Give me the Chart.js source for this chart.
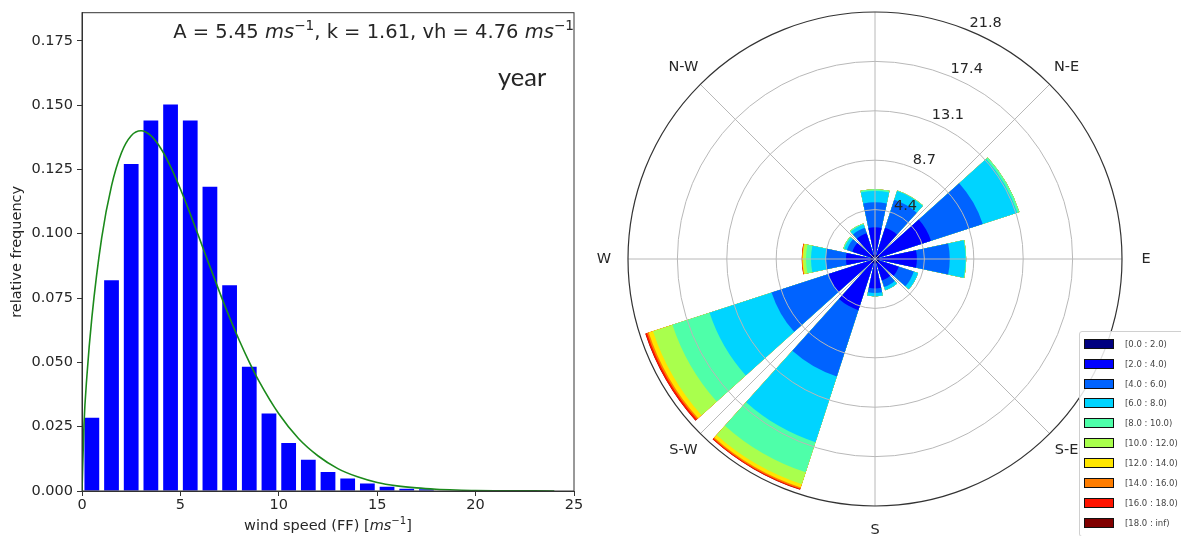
<!DOCTYPE html>
<html>
<head>
<meta charset="utf-8">
<script src="https://cdn.jsdelivr.net/npm/chart.js@4.4.1/dist/chart.umd.min.js"></script>
<style>
  body{margin:0;width:1181px;height:536px;overflow:hidden;background:#fff;position:relative;font-family:"DejaVu Sans",sans-serif;color:#262626}
  .box{position:absolute}
  sup{font-size:70%;vertical-align:0.6em;line-height:0}
  #ann{position:absolute;right:607px;top:21px;font-size:19.5px;line-height:22px;white-space:nowrap}
  #year{position:absolute;left:498px;top:61px;font-family:Lato,sans-serif;font-size:25.5px;line-height:30px}
  #xtitle{position:absolute;left:128px;width:400px;top:517px;text-align:center;font-size:14.5px;line-height:17px}
  #legend{position:absolute;left:1079px;top:331px;width:130px;height:204px;border:1px solid #d0d0d0;border-radius:3px;background:rgba(255,255,255,0.85)}
  #legend .row{position:absolute;left:4px;height:12px}
  #legend .sw{position:absolute;left:0;top:1px;width:30px;height:10px;box-sizing:border-box;border:1px solid #111}
  #legend .tx{position:absolute;left:41px;top:0;font-size:8.5px;line-height:12px;color:#444;white-space:nowrap}
</style>
</head>
<body>
<div class="box" style="left:0;top:0;width:600px;height:536px"><canvas id="hist"></canvas></div>
<div class="box" style="left:590px;top:0;width:591px;height:536px"><canvas id="rose"></canvas></div>
<div id="ann">A = 5.45 <i>ms</i><sup>−1</sup>, k = 1.61, vh = 4.76 <i>ms</i><sup>−1</sup></div>
<div id="year">year</div>
<div id="xtitle">wind speed (FF) [<i>ms</i><sup>−1</sup>]</div>
<div id="legend"></div>
<script>
// histogram (bin centres, relative frequency)
const binCenters = [0.5,1.5,2.5,3.5,4.5,5.5,6.5,7.5,8.5,9.5,10.5,11.5,12.5,13.5,14.5,15.5,16.5,17.5];
const relFreq = [0.0285,0.0819,0.1271,0.1440,0.1502,0.1440,0.1183,0.0800,0.0483,0.0301,0.0187,0.0121,0.0074,0.0049,0.0029,0.0017,0.0009,0.0007];
// fitted curve
const fitSpeed = [0,0.1,0.25,0.5,1,1.5,2,2.5,3,3.5,4,4.5,5,5.5,6,6.5,7,7.5,8,8.5,9,10,11,12,13,14,15,16,17,18,19,20,22,24];
const fitDensity = [0,0.0257,0.0448,0.0673,0.0984,0.1186,0.1314,0.1381,0.1400,0.1381,0.1332,0.1261,0.1174,0.1077,0.0975,0.0872,0.0771,0.0674,0.0584,0.0501,0.0426,0.0300,0.0204,0.0136,0.0087,0.0055,0.0033,0.0020,0.0012,0.0007,0.0004,0.0002,0.0001,0.0000];

// wind rose: 12 sectors of 30 deg, frequency (%) per speed class
const sectors = ['N','NNE','ENE','E','ESE','SSE','S','SSW','WSW','W','WNW','NNW'];
const speedBins = ['[0.0 : 2.0)','[2.0 : 4.0)','[4.0 : 6.0)','[6.0 : 8.0)','[8.0 : 10.0)','[10.0 : 12.0)','[12.0 : 14.0)','[14.0 : 16.0)','[16.0 : 18.0)','[18.0 : inf)'];
const binColors = ['#000080','#0000ff','#0063ff','#00d4ff','#4effa9','#a9ff4d','#ffe600','#ff7d00','#ff1400','#800000'];
const f0_2   = [0.4,0.4,0.4,0.4,0.4,0.4,0.4,0.4,0.4,0.4,0.4,0.4];
const f2_4   = [2.4,2.5,4.8,3.3,1.8,1.6,2.2,4.35,3.9,2.16,1.7,2.0];
const f4_6   = [2.2,2.6,4.8,2.9,1.4,0.6,0.4,6.15,5.3,1.77,0.5,0.5];
const f6_8   = [1.0,0.8,3.2,1.4,0.4,0.3,0.3,6.1,5.75,1.32,0.25,0.3];
const f8_10  = [0.15,0.05,0.2,0.05,0,0,0,2.8,3.45,0.44,0.1,0.1];
const f10_12 = [0,0,0,0,0,0,0,1.1,1.8,0.24,0,0];
const f12_14 = [0,0,0,0,0,0,0,0.3,0.4,0.07,0,0];
const f14_16 = [0,0,0,0,0,0,0,0.12,0.15,0.04,0,0];
const f16_18 = [0,0,0,0,0,0,0,0.08,0.15,0.02,0,0];
const f18_inf= [0,0,0,0,0,0,0,0.02,0.02,0.01,0,0];
const compassLabels = ['N','N-E','E','S-E','S','S-W','W','N-W'];
const rTicks = [4.36,8.72,13.08,17.44,21.8];

Chart.defaults.font.family = 'DejaVu Sans';
Chart.defaults.font.size = 14.5;
Chart.defaults.color = '#262626';

const frame = {
  id:'frame',
  afterDraw(chart){
    const a = chart.chartArea, ctx = chart.ctx;
    ctx.save(); ctx.strokeStyle = '#333'; ctx.lineWidth = 1;
    ctx.strokeRect(a.left, a.top, a.right - a.left, a.bottom - a.top);
    ctx.restore();
  }
};

new Chart(document.getElementById('hist'), {
  type:'bar',
  data:{ datasets:[
    { type:'line', data: fitSpeed.map((x,i)=>({x:x, y:fitDensity[i]})), borderColor:'#1b8a1b', borderWidth:1.6,
      pointRadius:0, cubicInterpolationMode:'monotone', fill:false },
    { type:'bar', data: binCenters.map((x,i)=>({x:x, y:relFreq[i]})), backgroundColor:'#0000ff',
      barPercentage:0.75, categoryPercentage:1 }
  ]},
  options:{
    responsive:true, maintainAspectRatio:false, animation:false,
    layout:{padding:{left:0,top:12,right:26,bottom:0}},
    plugins:{legend:{display:false}, tooltip:{enabled:false}},
    scales:{
      x:{ type:'linear', min:0, max:25, offset:false,
          ticks:{stepSize:5, padding:1, maxRotation:0, callback:v=>v},
          grid:{drawOnChartArea:false, offset:false, tickLength:5, color:'#333'},
          border:{color:'#333'},
          afterFit:s=>{ s.height = 45; } },
      y:{ min:0, max:0.1859,
          ticks:{stepSize:0.025, includeBounds:false, padding:4, callback:v=>v.toFixed(3)},
          grid:{drawOnChartArea:false, tickLength:5, color:'#333'},
          border:{color:'#333'},
          title:{display:true, text:'relative frequency', padding:{top:9,bottom:0}, font:{size:14.5}},
          afterFit:s=>{ s.width = 82; } }
    }
  },
  plugins:[frame]
});

// stacked rose: cumulative radius per speed class
const bins = [f0_2,f2_4,f4_6,f6_8,f8_10,f10_12,f12_14,f14_16,f16_18,f18_inf];
let run = sectors.map(()=>0);
const roseSets = bins.map((b,k)=>{
  run = run.map((v,i)=>v + b[i]);
  return {
    label: speedBins[k],
    data: run.flatMap(v=>[v,0]),
    backgroundColor: binColors[k],
    borderWidth:0,
    angle: c => (c.dataIndex % 2 ? 6 : 24)
  };
});

const roseOverlay = {
  id:'roseOverlay',
  afterDatasetsDraw(chart){
    const s = chart.scales.r, ctx = chart.ctx;
    const cx = s.xCenter, cy = s.yCenter;
    const R = s.getDistanceFromCenterForValue(s.max);
    ctx.save();
    ctx.strokeStyle = '#b8b8b8'; ctx.lineWidth = 1;
    rTicks.slice(0,-1).forEach(v=>{
      ctx.beginPath(); ctx.arc(cx, cy, s.getDistanceFromCenterForValue(v), 0, 2*Math.PI); ctx.stroke();
    });
    compassLabels.forEach((t,i)=>{
      const a = i*Math.PI/4;
      ctx.beginPath(); ctx.moveTo(cx, cy); ctx.lineTo(cx + R*Math.sin(a), cy - R*Math.cos(a)); ctx.stroke();
    });
    ctx.strokeStyle = '#333'; ctx.lineWidth = 1.2;
    ctx.beginPath(); ctx.arc(cx, cy, R, 0, 2*Math.PI); ctx.stroke();

    ctx.fillStyle = '#262626';
    ctx.font = '14.5px "DejaVu Sans"';
    ctx.textAlign = 'center'; ctx.textBaseline = 'middle';
    compassLabels.forEach((t,i)=>{
      const a = i*Math.PI/4, d = R + 24;
      ctx.fillText(t, cx + d*Math.sin(a), cy - d*Math.cos(a));
    });
    ctx.textAlign = 'left'; ctx.textBaseline = 'bottom';
    const la = 22.5*Math.PI/180;
    rTicks.forEach(v=>{
      const d = s.getDistanceFromCenterForValue(v);
      ctx.fillText(v.toFixed(1), cx + d*Math.sin(la), cy - d*Math.cos(la));
    });
    ctx.restore();
  }
};

new Chart(document.getElementById('rose'), {
  type:'polarArea',
  data:{ labels: sectors.flatMap(s=>[s,'']), datasets: roseSets },
  options:{
    responsive:true, maintainAspectRatio:false, animation:false,
    layout:{padding:{left:38,top:12,right:59,bottom:30}},
    plugins:{legend:{display:false}, tooltip:{enabled:false}},
    scales:{ r:{ min:0, max:21.8, startAngle:-12,
      ticks:{display:false, stepSize:4.36},
      grid:{display:false}, angleLines:{display:false}, pointLabels:{display:false} } }
  },
  plugins:[roseOverlay]
});

// legend
const lg = document.getElementById('legend');
speedBins.forEach((t,i)=>{
  const row = document.createElement('div');
  row.className = 'row';
  row.style.top = (5.7 + i*19.9) + 'px';
  row.innerHTML = '<div class="sw" style="background:' + binColors[i] + '"></div><div class="tx">' + t + '</div>';
  lg.appendChild(row);
});
</script>
</body>
</html>
